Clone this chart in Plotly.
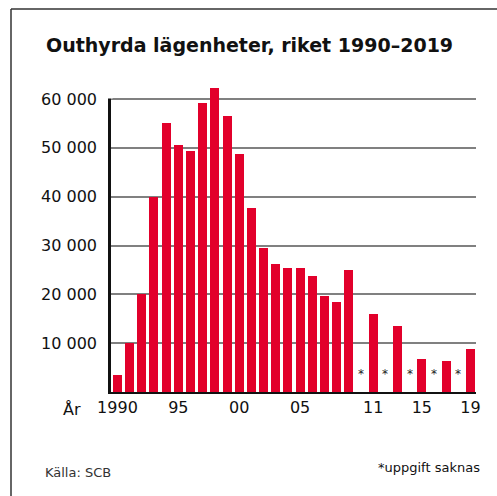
import plotly.graph_objects as go

years = list(range(1990, 2020))
values = [3500, 10000, 20000, 40000, 55000, 50600, 49300, 59200, 62300, 56600,
          48700, 37700, 29500, 26200, 25400, 25400, 23800, 19700, 18400, 25000,
          None, 16000, None, 13500, None, 6800, None, 6400, None, 8800]
missing_years = [2010, 2012, 2014, 2016, 2018]
x_tickvals = [1990, 1995, 2000, 2005, 2011, 2015, 2019]
x_ticktext = ["1990", "95", "00", "05", "11", "15", "19"]
y_tickvals = [10000, 20000, 30000, 40000, 50000, 60000]
y_ticktext = ["10 000", "20 000", "30 000", "40 000", "50 000", "60 000"]

FONT = "DejaVu Sans, Liberation Sans, Arial, sans-serif"
RED = "#e2002b"

W, H = 497, 496
L, R, T, B = 111, 21, 84, 104
pw, ph = W - L - R, H - T - B
Y_TOP = 60000 + 15 * 60000 / 293  # a little headroom above 60 000 for the tallest bar


def px(xp):
    return (xp - L) / pw


def py(yp):
    return (H - yp - B) / ph


fig = go.Figure()
fig.add_trace(go.Bar(
    x=years, y=values, marker=dict(color=RED, line=dict(width=0)),
    width=0.74, hoverinfo="x+y",
))

annotations = []
for yr in missing_years:
    annotations.append(dict(x=yr, y=3600, xref="x", yref="y", text="*",
                            showarrow=False, font=dict(size=12, color="#222", family=FONT),
                            xanchor="center", yanchor="middle"))
annotations += [
    dict(x=1989.47, y=0, xref="x", yref="y", text="År", showarrow=False,
         xanchor="right", yanchor="top", xshift=-28, yshift=-6,
         font=dict(size=16, color="#111", family=FONT)),
    dict(x=px(44), y=py(45), xref="paper", yref="paper",
         text="<b>Outhyrda lägenheter, riket 1990–2019</b>",
         showarrow=False, xanchor="left", yanchor="middle",
         font=dict(size=19, color="#111", family=FONT)),
    dict(x=px(43), y=py(472), xref="paper", yref="paper", text="Källa: SCB",
         showarrow=False, xanchor="left", yanchor="middle",
         font=dict(size=13, color="#333", family=FONT)),
    dict(x=px(482), y=py(467), xref="paper", yref="paper", text="*uppgift saknas",
         showarrow=False, xanchor="right", yanchor="middle",
         font=dict(size=13, color="#111", family=FONT)),
]

shapes = [
    # outer frame (left + top)
    dict(type="line", xref="paper", yref="paper",
         x0=px(11), x1=px(11), y0=py(H), y1=py(9),
         line=dict(color="#333", width=1.5)),
    dict(type="line", xref="paper", yref="paper",
         x0=px(11), x1=px(W), y0=py(9), y1=py(9),
         line=dict(color="#333", width=1.5)),
    # hide the part of the y-axis line above 60 000
    dict(type="rect", xref="paper", yref="paper",
         x0=px(106), x1=px(112.6), y0=py(98.5), y1=py(80),
         fillcolor="white", line=dict(width=0), layer="above"),
]

fig.update_layout(
    width=W, height=H,
    margin=dict(l=L, r=R, t=T, b=B, pad=0),
    paper_bgcolor="white", plot_bgcolor="white",
    showlegend=False, bargap=0,
    annotations=annotations, shapes=shapes,
    font=dict(family=FONT, size=16, color="#111"),
    xaxis=dict(range=[1989.47, 2019.45], tickmode="array", tickvals=x_tickvals,
               ticktext=x_ticktext, showgrid=False, zeroline=False,
               showline=True, linecolor="#111", linewidth=2, ticks="",
               tickfont=dict(size=16, color="#111", family=FONT)),
    yaxis=dict(range=[0, Y_TOP], tickmode="array", tickvals=y_tickvals,
               ticktext=y_ticktext, showgrid=True, gridcolor="#808080", gridwidth=1.5,
               zeroline=False, showline=True, linecolor="#111", linewidth=2.5,
               ticks="", ticklabelstandoff=8,
               tickfont=dict(size=16, color="#111", family=FONT)),
)

fig.write_html("out.html", config={"displayModeBar": False},
               post_script="document.body.style.margin='0';document.body.style.overflow='hidden';")
